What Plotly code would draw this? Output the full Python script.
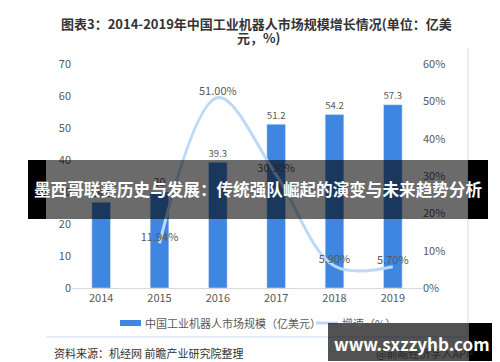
import plotly.graph_objects as go

# ---- data ----
years = ["2014", "2015", "2016", "2017", "2018", "2019"]
market_size = [26.8, 30, 39.3, 51.2, 54.2, 57.3]          # 亿美元
growth_years = ["2015", "2016", "2017", "2018", "2019"]
growth_rate = [11.94, 51.00, 30.30, 5.90, 5.70]           # %
growth_labels = ["11.94%", "51.00%", "30.30%", "5.90%", "5.70%"]
left_ticks = [0, 10, 20, 30, 40, 50, 60, 70]
right_ticks = [0, 10, 20, 30, 40, 50, 60]
right_tick_labels = ["0%", "10%", "20%", "30%", "40%", "50%", "60%"]

title_line1 = "图表3：2014-2019年中国工业机器人市场规模增长情况(单位：亿美"
title_line2 = "元，%)"
bar_name = "中国工业机器人市场规模（亿美元）"
line_name = "增速（%）"
source_text = "资料来源：机经网 前瞻产业研究院整理"
banner_text = "墨西哥联赛历史与发展：传统强队崛起的演变与未来趋势分析"
site_text = "www.sxzzyhb.com"
wm_text = "@前瞻经济学人APP"

W, H = 500, 362
ML, MR, MT, MB = 64, 86, 56, 82
PW, PH = W - ML - MR, H - MT - MB

def fx(px):
    return (px - ML) / PW

def fy(py):
    return (H - MB - py) / PH

FONT = "Noto Sans CJK SC, Noto Sans, sans-serif"
BAR_C = "#3F86E0"
LINE_C = "#BED8F7"
TXT_C = "#595959"

fig = go.Figure()
fig.add_trace(go.Bar(
    x=years, y=market_size, name=bar_name, marker_color=BAR_C,
    text=[f"{v:g}" for v in market_size], textposition="outside",
    textfont=dict(size=11, color=TXT_C, family=FONT), cliponaxis=False,
    showlegend=False,
))
fig.add_trace(go.Scatter(
    x=growth_years, y=growth_rate, name=line_name, yaxis="y2",
    mode="lines+text", line=dict(color=LINE_C, width=3, shape="spline", smoothing=1.0),
    text=growth_labels, textposition="top center",
    textfont=dict(size=11, color=TXT_C, family=FONT), cliponaxis=False,
    showlegend=False,
))

fig.update_layout(
    width=W, height=H, margin=dict(l=ML, r=MR, t=MT, b=MB),
    paper_bgcolor="white", plot_bgcolor="white",
    font=dict(family=FONT, size=11, color=TXT_C),
    bargap=0.68, showlegend=False,
    xaxis=dict(type="category", showgrid=False, showline=True, linecolor="#D9D9D9",
               linewidth=1, ticks="", tickfont=dict(size=11, color=TXT_C)),
    yaxis=dict(range=[0, 70], tickvals=left_ticks, showgrid=False, zeroline=False,
               showline=False, ticks="", tickfont=dict(size=11, color=TXT_C)),
    yaxis2=dict(range=[0, 60], tickmode="array", tickvals=right_ticks,
                ticktext=right_tick_labels, overlaying="y",
                side="right", showgrid=False, zeroline=False, showline=False, ticks="",
                tickfont=dict(size=11, color=TXT_C)),
)

shapes = []
# frame lines
shapes.append(dict(type="line", xref="paper", yref="paper", x0=fx(460), x1=fx(460),
                   y0=fy(40), y1=fy(329), line=dict(color="#E8EEF8", width=2), layer="below"))
shapes.append(dict(type="line", xref="paper", yref="paper", x0=fx(38), x1=fx(460),
                   y0=fy(329), y1=fy(329), line=dict(color="#E3ECF8", width=2), layer="below"))
# manual legend
shapes.append(dict(type="rect", xref="paper", yref="paper", x0=fx(112), x1=fx(133),
                   y0=fy(318), y1=fy(312), fillcolor=BAR_C, line=dict(width=0)))
shapes.append(dict(type="line", xref="paper", yref="paper", x0=fx(308), x1=fx(330),
                   y0=fy(315), y1=fy(315), line=dict(color=LINE_C, width=3)))
# banner overlay
shapes.append(dict(type="rect", xref="paper", yref="paper", x0=fx(20), x1=fx(38),
                   y0=fy(211), y1=fy(152), fillcolor="black", line=dict(width=0), layer="above"))
shapes.append(dict(type="rect", xref="paper", yref="paper", x0=fx(38), x1=fx(460),
                   y0=fy(211), y1=fy(152), fillcolor="rgba(0,0,0,0.58)", line=dict(width=0), layer="above"))
shapes.append(dict(type="rect", xref="paper", yref="paper", x0=fx(460), x1=fx(480),
                   y0=fy(211), y1=fy(152), fillcolor="black", line=dict(width=0), layer="above"))
# site overlay
shapes.append(dict(type="rect", xref="paper", yref="paper", x0=fx(320), x1=fx(461),
                   y0=fy(353), y1=fy(315), fillcolor="rgba(0,0,0,0.68)", line=dict(width=0), layer="above"))
shapes.append(dict(type="rect", xref="paper", yref="paper", x0=fx(461), x1=fx(491),
                   y0=fy(353), y1=fy(315), fillcolor="black", line=dict(width=0), layer="above"))
fig.update_layout(shapes=shapes)

ann = []
def add_text(txt, px, py, size, color, xanchor="center", bold=False):
    t = f"<b>{txt}</b>" if bold else txt
    ann.append(dict(text=t, x=fx(px), y=fy(py), xref="paper", yref="paper",
                    xanchor=xanchor, yanchor="middle", showarrow=False,
                    font=dict(size=size, color=color, family=FONT)))

add_text(title_line1, 248, 16, 13, "#333333", bold=True)
add_text(title_line2, 250, 30, 13, "#333333", bold=True)
add_text(bar_name, 135, 315, 11, TXT_C, xanchor="left")
add_text(line_name, 332, 315, 11, TXT_C, xanchor="left")
add_text(source_text, 44, 345, 11, "#333333", xanchor="left")
add_text(banner_text, 250, 181, 16.6, "white", bold=True)
add_text(wm_text, 366, 345, 11, "#2a2a2a", xanchor="left")
add_text(site_text, 404, 335, 17, "white", bold=True)
fig.update_layout(annotations=ann)

fig.write_html("out.html")
